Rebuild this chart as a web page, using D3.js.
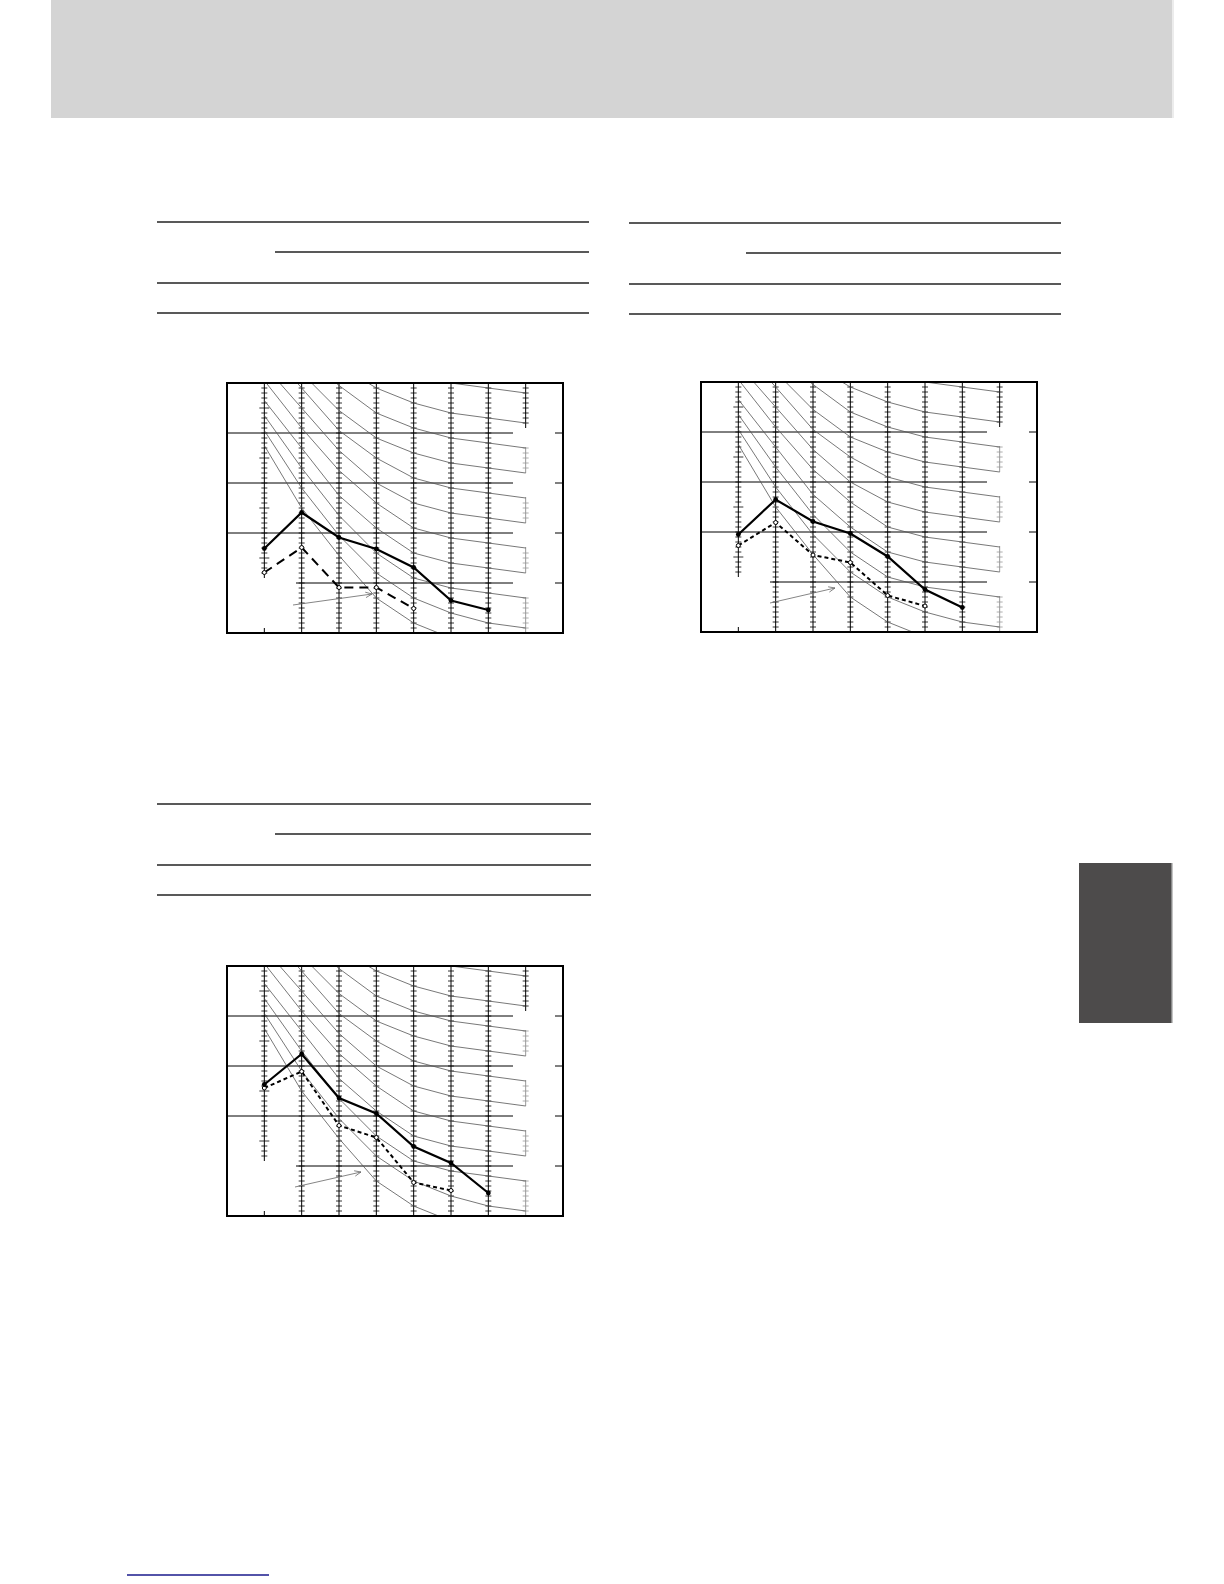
<!DOCTYPE html>
<html>
<head>
<meta charset="utf-8">
<script src="https://cdn.jsdelivr.net/npm/d3@7/dist/d3.min.js"></script>
<style>
  body { margin: 0; background: #fff; overflow: hidden; }
  svg { display: block; }
  .frame { fill: none; stroke: #000; stroke-width: 2; }
  .grid { stroke: #000; stroke-width: 1; }
  .nc { fill: none; stroke: #555; stroke-width: 0.8; }
  .rule { stroke: #222; stroke-width: 1.4; }
</style>
</head>
<body>
<svg width="1224" height="1584"></svg>
<script>
// octave bands (Hz)
const bands = ["63", "125", "250", "500", "1k", "2k", "4k", "8k"];
const yDomain = [20, 70];
const gridLevels = [60, 50, 40, 30];
const longTicks = [65, 55, 45, 35];

// NC reference curves as drawn on the sheet (dB)
const nc20 = [57.5, 45, 35.5, 27, 22, 19, 17, 16];
const nc25 = [60.5, 49, 39.5, 32, 27, 24, 22, 21];
const nc30 = [63.5, 53, 43.5, 36, 31, 29, 28, 27];
const nc35 = [66.5, 57, 47.5, 41, 36, 34, 33, 32];
const nc40 = [70.5, 61, 52.5, 46, 41, 39, 38, 37];
const nc45 = [73.5, 65, 56.5, 50, 46, 44, 43, 42];
const nc50 = [77.5, 69, 60.5, 55, 51, 49, 48, 47];
const nc55 = [80.5, 72, 64.5, 59, 56, 54, 53, 52];
const nc60 = [83.5, 76, 69.5, 64, 61, 59, 58, 57];
const nc65 = [86.5, 80, 73.5, 69, 66, 64, 63, 62];
const nc70 = [89.5, 84, 77.5, 73, 71, 70, 69, 68];
const ncCurves = [nc20, nc25, nc30, nc35, nc40, nc45, nc50, nc55, nc60, nc65, nc70];

// measured spectra (dB), one solid and one broken line per chart
const chart1Solid  = [36.9, 44.1, 39.1, 36.8, 33.1, 26.5, 24.6];
const chart1Broken = [32.1, 37.1, 29.1, 29.1, 24.9];
const chart2Solid  = [39.5, 46.5, 42.1, 39.7, 35.1, 28.5, 24.9];
const chart2Broken = [37.3, 41.9, 35.4, 33.9, 27.3, 25.2];
const chart3Solid  = [46.3, 52.4, 43.6, 40.5, 33.9, 30.6, 24.6];
const chart3Broken = [45.6, 48.9, 38.1, 35.7, 26.7, 25.1];

const svg = d3.select("svg");

// page furniture
svg.append("rect").attr("x", 51).attr("y", 0).attr("width", 1121).attr("height", 118).attr("fill", "#d4d4d4");
svg.append("rect").attr("x", 1172).attr("y", 0).attr("width", 2).attr("height", 118).attr("fill", "#ececec");
svg.append("rect").attr("x", 1079).attr("y", 863).attr("width", 93).attr("height", 160).attr("fill", "#4d4b4b");
svg.append("rect").attr("x", 1171).attr("y", 863).attr("width", 1.5).attr("height", 160).attr("fill", "#8a8a8a");
svg.append("line").attr("x1", 127).attr("x2", 269).attr("y1", 1575).attr("y2", 1575)
   .attr("stroke", "#1a1a8c").attr("stroke-width", 1.5);

// table rules above each chart
function tableRules(x0, x1, y0, xIndent) {
   const rows = [0, 30, 61, 91];
   rows.forEach((dy, i) => {
      svg.append("line").attr("class", "rule")
         .attr("x1", i === 1 ? xIndent : x0).attr("x2", x1)
         .attr("y1", y0 + dy).attr("y2", y0 + dy);
   });
}
tableRules(157, 589, 222, 275);
tableRules(629, 1061, 223, 746);
tableRules(157, 591, 804, 275);

const W = 336, H = 250;
const x = d3.scalePoint().domain(bands).range([0, W]).padding(1);
const y = d3.scaleLinear().domain(yDomain).range([H, 0]);

let clipId = 0;
function drawChart(left, top, solid, broken, dash, arrow) {
   const g = svg.append("g").attr("transform", `translate(${left},${top})`);
   const id = "clip" + (clipId++);
   g.append("clipPath").attr("id", id).append("rect").attr("width", W).attr("height", H);

   // horizontal grid, broken where the right-hand labels sit
   gridLevels.forEach((v, i) => {
      const gy = y(v);
      g.append("line").attr("class", "grid")
         .attr("x1", i === 3 ? 69 : 0).attr("x2", 286).attr("y1", gy).attr("y2", gy);
      g.append("line").attr("class", "grid")
         .attr("x1", 328).attr("x2", W).attr("y1", gy).attr("y2", gy);
   });

   // vertical band lines with 1 dB ticks
   bands.forEach((b, i) => {
      const bx = x(b);
      let segs;
      if (i === 0) segs = [[0, y(30) - 5]];
      else if (i === 7) segs = [[0, y(60) - 5]].concat(gridLevels.map((v, k) =>
         [y(v) + 14, k < 3 ? y(gridLevels[k + 1]) - 10 : H]));
      else segs = [[0, H]];
      segs.forEach((s, k) => {
         const col = (i === 7 && k > 0) ? "#9a9a9a" : "#000";
         g.append("line").attr("x1", bx).attr("x2", bx).attr("y1", s[0]).attr("y2", s[1])
            .attr("stroke", col).attr("stroke-width", 1);
         const ticks = d3.range(yDomain[0], yDomain[1] + 1).filter(v => y(v) >= s[0] + 1 && y(v) <= s[1] - 1);
         g.selectAll(null).data(ticks).enter().append("line")
            .attr("x1", v => bx - (i === 0 && longTicks.includes(v) ? 5 : 3))
            .attr("x2", v => bx + (i === 0 && longTicks.includes(v) ? 5 : 3))
            .attr("y1", v => y(v)).attr("y2", v => y(v))
            .attr("stroke", col).attr("stroke-width", 0.8);
      });
   });
   g.append("line").attr("x1", x(bands[0])).attr("x2", x(bands[0])).attr("y1", H - 5).attr("y2", H)
      .attr("stroke", "#000");

   // NC curves
   const line = d3.line().x((d, i) => x(bands[i])).y(d => y(d));
   g.append("g").attr("clip-path", `url(#${id})`)
      .selectAll("path").data(ncCurves).enter().append("path")
      .attr("class", "nc").attr("d", line);

   // pointer arrow
   const ang = Math.atan2(arrow[3] - arrow[1], arrow[2] - arrow[0]);
   g.append("line").attr("x1", arrow[0]).attr("y1", arrow[1]).attr("x2", arrow[2]).attr("y2", arrow[3])
      .attr("stroke", "#666").attr("stroke-width", 0.8);
   [-0.4, 0.4].forEach(a => {
      g.append("line").attr("x1", arrow[2]).attr("y1", arrow[3])
         .attr("x2", arrow[2] - 7 * Math.cos(ang + a)).attr("y2", arrow[3] - 7 * Math.sin(ang + a))
         .attr("stroke", "#666").attr("stroke-width", 0.8);
   });

   // measured spectra
   g.append("path").attr("d", line(broken)).attr("fill", "none")
      .attr("stroke", "#000").attr("stroke-width", 2).attr("stroke-dasharray", dash);
   g.selectAll(null).data(broken).enter().append("circle")
      .attr("cx", (d, i) => x(bands[i])).attr("cy", d => y(d)).attr("r", 2)
      .attr("fill", "#fff").attr("stroke", "#000").attr("stroke-width", 1);
   g.append("path").attr("d", line(solid)).attr("fill", "none")
      .attr("stroke", "#000").attr("stroke-width", 2.2);
   g.selectAll(null).data(solid).enter().append("circle")
      .attr("cx", (d, i) => x(bands[i])).attr("cy", d => y(d)).attr("r", 2.4).attr("fill", "#000");

   g.append("rect").attr("class", "frame").attr("width", W).attr("height", H);
}

drawChart(227, 383, chart1Solid, chart1Broken, "9,6", [66, 222, 145, 211]);
drawChart(701, 382, chart2Solid, chart2Broken, "4,3", [69, 221, 134, 206]);
drawChart(227, 966, chart3Solid, chart3Broken, "4,3", [68, 221, 134, 206]);
</script>
</body>
</html>
